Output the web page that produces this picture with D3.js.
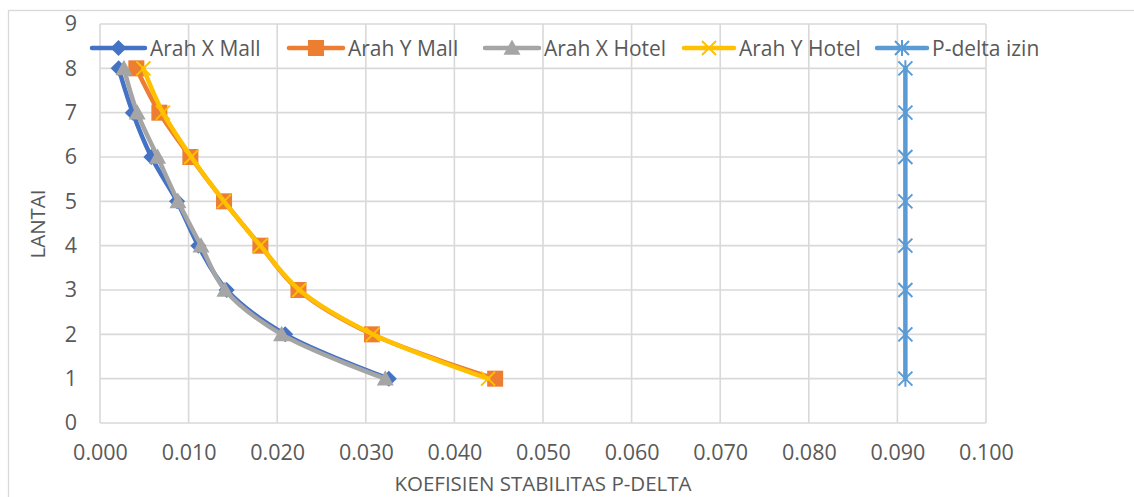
<!DOCTYPE html>
<html>
<head>
<meta charset="utf-8">
<script src="https://cdn.jsdelivr.net/npm/d3@7"></script>
<style>
  html, body { margin: 0; padding: 0; background: #fff; }
  svg { display: block; font-family: "Open Sans", sans-serif; }
</style>
</head>
<body>
<svg id="chart" width="1134" height="497"></svg>
<script>
// Storey numbers (lantai), bottom to top
const floors = [1, 2, 3, 4, 5, 6, 7, 8];

// Stability coefficient per storey for each direction / building
const arahXMall  = [0.0326, 0.0209, 0.0143, 0.0111, 0.0087, 0.0058, 0.0037, 0.0021];
const arahYMall  = [0.0446, 0.0307, 0.0224, 0.0181, 0.0140, 0.0102, 0.0067, 0.0041];
const arahXHotel = [0.0322, 0.0205, 0.0141, 0.0114, 0.0088, 0.0065, 0.0042, 0.0027];
const arahYHotel = [0.0438, 0.0308, 0.0225, 0.0181, 0.0140, 0.0103, 0.0071, 0.0049];
const pDeltaIzin = [0.0909, 0.0909, 0.0909, 0.0909, 0.0909, 0.0909, 0.0909, 0.0909];

const seriesNames = ["Arah X Mall", "Arah Y Mall", "Arah X Hotel", "Arah Y Hotel", "P-delta izin"];
const xTicks = [0, 0.01, 0.02, 0.03, 0.04, 0.05, 0.06, 0.07, 0.08, 0.09, 0.1];
const yTicks = [0, 1, 2, 3, 4, 5, 6, 7, 8, 9];
const xTitle = "KOEFISIEN STABILITAS P-DELTA";
const yTitle = "LANTAI";

const series = [
  { name: seriesNames[0], values: arahXMall,  color: "#4472C4", marker: "diamond" },
  { name: seriesNames[1], values: arahYMall,  color: "#ED7D31", marker: "square" },
  { name: seriesNames[2], values: arahXHotel, color: "#A5A5A5", marker: "triangle" },
  { name: seriesNames[3], values: arahYHotel, color: "#FFC000", marker: "x" },
  { name: seriesNames[4], values: pDeltaIzin, color: "#5B9BD5", marker: "star" }
];

const svg = d3.select("#chart");
const textColor = "#595959";
const gridColor = "#D9D9D9";

// Outer chart frame
svg.append("rect")
  .attr("x", 8.5).attr("y", 10.5)
  .attr("width", 1140).attr("height", 500)
  .attr("fill", "none").attr("stroke", gridColor).attr("stroke-width", 1.3);

const plot = { left: 100, right: 986, top: 24, bottom: 423 };

const x = d3.scaleLinear().domain([0, 0.1]).range([plot.left, plot.right]);
const y = d3.scaleLinear().domain([0, 9]).range([plot.bottom, plot.top]);

// Gridlines
const grid = svg.append("g");
grid.selectAll("line.v").data(xTicks).join("line")
  .attr("class", "v")
  .attr("x1", d => x(d)).attr("x2", d => x(d))
  .attr("y1", plot.top).attr("y2", plot.bottom)
  .attr("stroke", gridColor).attr("stroke-width", 1.6);
grid.selectAll("line.h").data(yTicks).join("line")
  .attr("class", "h")
  .attr("x1", plot.left).attr("x2", plot.right)
  .attr("y1", d => y(d)).attr("y2", d => y(d))
  .attr("stroke", gridColor).attr("stroke-width", 1.6);

// Axes (labels only, no domain/tick lines)
const xAxis = d3.axisBottom(x).tickValues(xTicks).tickFormat(d3.format(".3f")).tickSize(0).tickPadding(22);
const yAxis = d3.axisLeft(y).tickValues(yTicks).tickFormat(d3.format("d")).tickSize(0).tickPadding(23);

const gx = svg.append("g").attr("transform", `translate(0,${plot.bottom})`).call(xAxis);
const gy = svg.append("g").attr("transform", `translate(${plot.left},0)`).call(yAxis);
[gx, gy].forEach(g => {
  g.select(".domain").remove();
  g.selectAll("text").attr("fill", textColor).style("font-size", "21.5px").style("font-family", "'Open Sans', sans-serif");
});

// Axis titles
svg.append("text")
  .attr("x", (plot.left + plot.right) / 2).attr("y", 491)
  .attr("text-anchor", "middle").attr("fill", textColor)
  .style("font-size", "20.5px").text(xTitle);
svg.append("text")
  .attr("transform", `translate(45,224) rotate(-90)`)
  .attr("text-anchor", "middle").attr("fill", textColor)
  .style("font-size", "20.5px").text(yTitle);

// Marker shapes
function drawMarker(g, type, color, cx, cy) {
  if (type === "diamond") {
    const s = 8;
    g.append("path").attr("d", `M${cx},${cy - s}L${cx + s},${cy}L${cx},${cy + s}L${cx - s},${cy}Z`).attr("fill", color);
  } else if (type === "square") {
    const s = 8;
    g.append("rect").attr("x", cx - s).attr("y", cy - s).attr("width", 2 * s).attr("height", 2 * s).attr("fill", color);
  } else if (type === "triangle") {
    const s = 8.5;
    g.append("path").attr("d", `M${cx},${cy - s}L${cx + s},${cy + s * 0.8}L${cx - s},${cy + s * 0.8}Z`).attr("fill", color);
  } else if (type === "x") {
    const s = 7;
    g.append("path").attr("d", `M${cx - s},${cy - s}L${cx + s},${cy + s}M${cx + s},${cy - s}L${cx - s},${cy + s}`)
      .attr("stroke", color).attr("stroke-width", 2).attr("fill", "none");
  } else if (type === "star") {
    const s = 7;
    g.append("path").attr("d", `M${cx - s},${cy - s}L${cx + s},${cy + s}M${cx + s},${cy - s}L${cx - s},${cy + s}M${cx},${cy - s - 1}L${cx},${cy + s + 1}`)
      .attr("stroke", color).attr("stroke-width", 2).attr("fill", "none");
  }
}

const line = d3.line()
  .x(d => x(d.v))
  .y(d => y(d.f))
  .curve(d3.curveCatmullRom.alpha(0.5));

const marks = svg.append("g");
series.forEach(s => {
  const pts = floors.map((f, i) => ({ f, v: s.values[i] }));
  const g = marks.append("g");
  g.append("path").datum(pts).attr("d", line)
    .attr("fill", "none").attr("stroke", s.color)
    .attr("stroke-width", 4.5).attr("stroke-linejoin", "round").attr("stroke-linecap", "round");
  pts.forEach(p => drawMarker(g, s.marker, s.color, x(p.v), y(p.f)));
});

// Legend
const legendItems = [
  { lx: 92,  tx: 150 },
  { lx: 289, tx: 348 },
  { lx: 485, tx: 544 },
  { lx: 684, tx: 739 },
  { lx: 877, tx: 932 }
];
const legendY = 48;
const legend = svg.append("g");
series.forEach((s, i) => {
  const it = legendItems[i];
  const lg = legend.append("g");
  lg.append("line")
    .attr("x1", it.lx).attr("x2", it.tx - 5)
    .attr("y1", legendY).attr("y2", legendY)
    .attr("stroke", s.color).attr("stroke-width", 4.5).attr("stroke-linecap", "round");
  drawMarker(lg, s.marker, s.color, (it.lx + it.tx - 5) / 2, legendY);
  lg.append("text")
    .attr("x", it.tx).attr("y", legendY + 7.5)
    .attr("fill", textColor).style("font-size", "21px")
    .text(s.name);
});
</script>
</body>
</html>
